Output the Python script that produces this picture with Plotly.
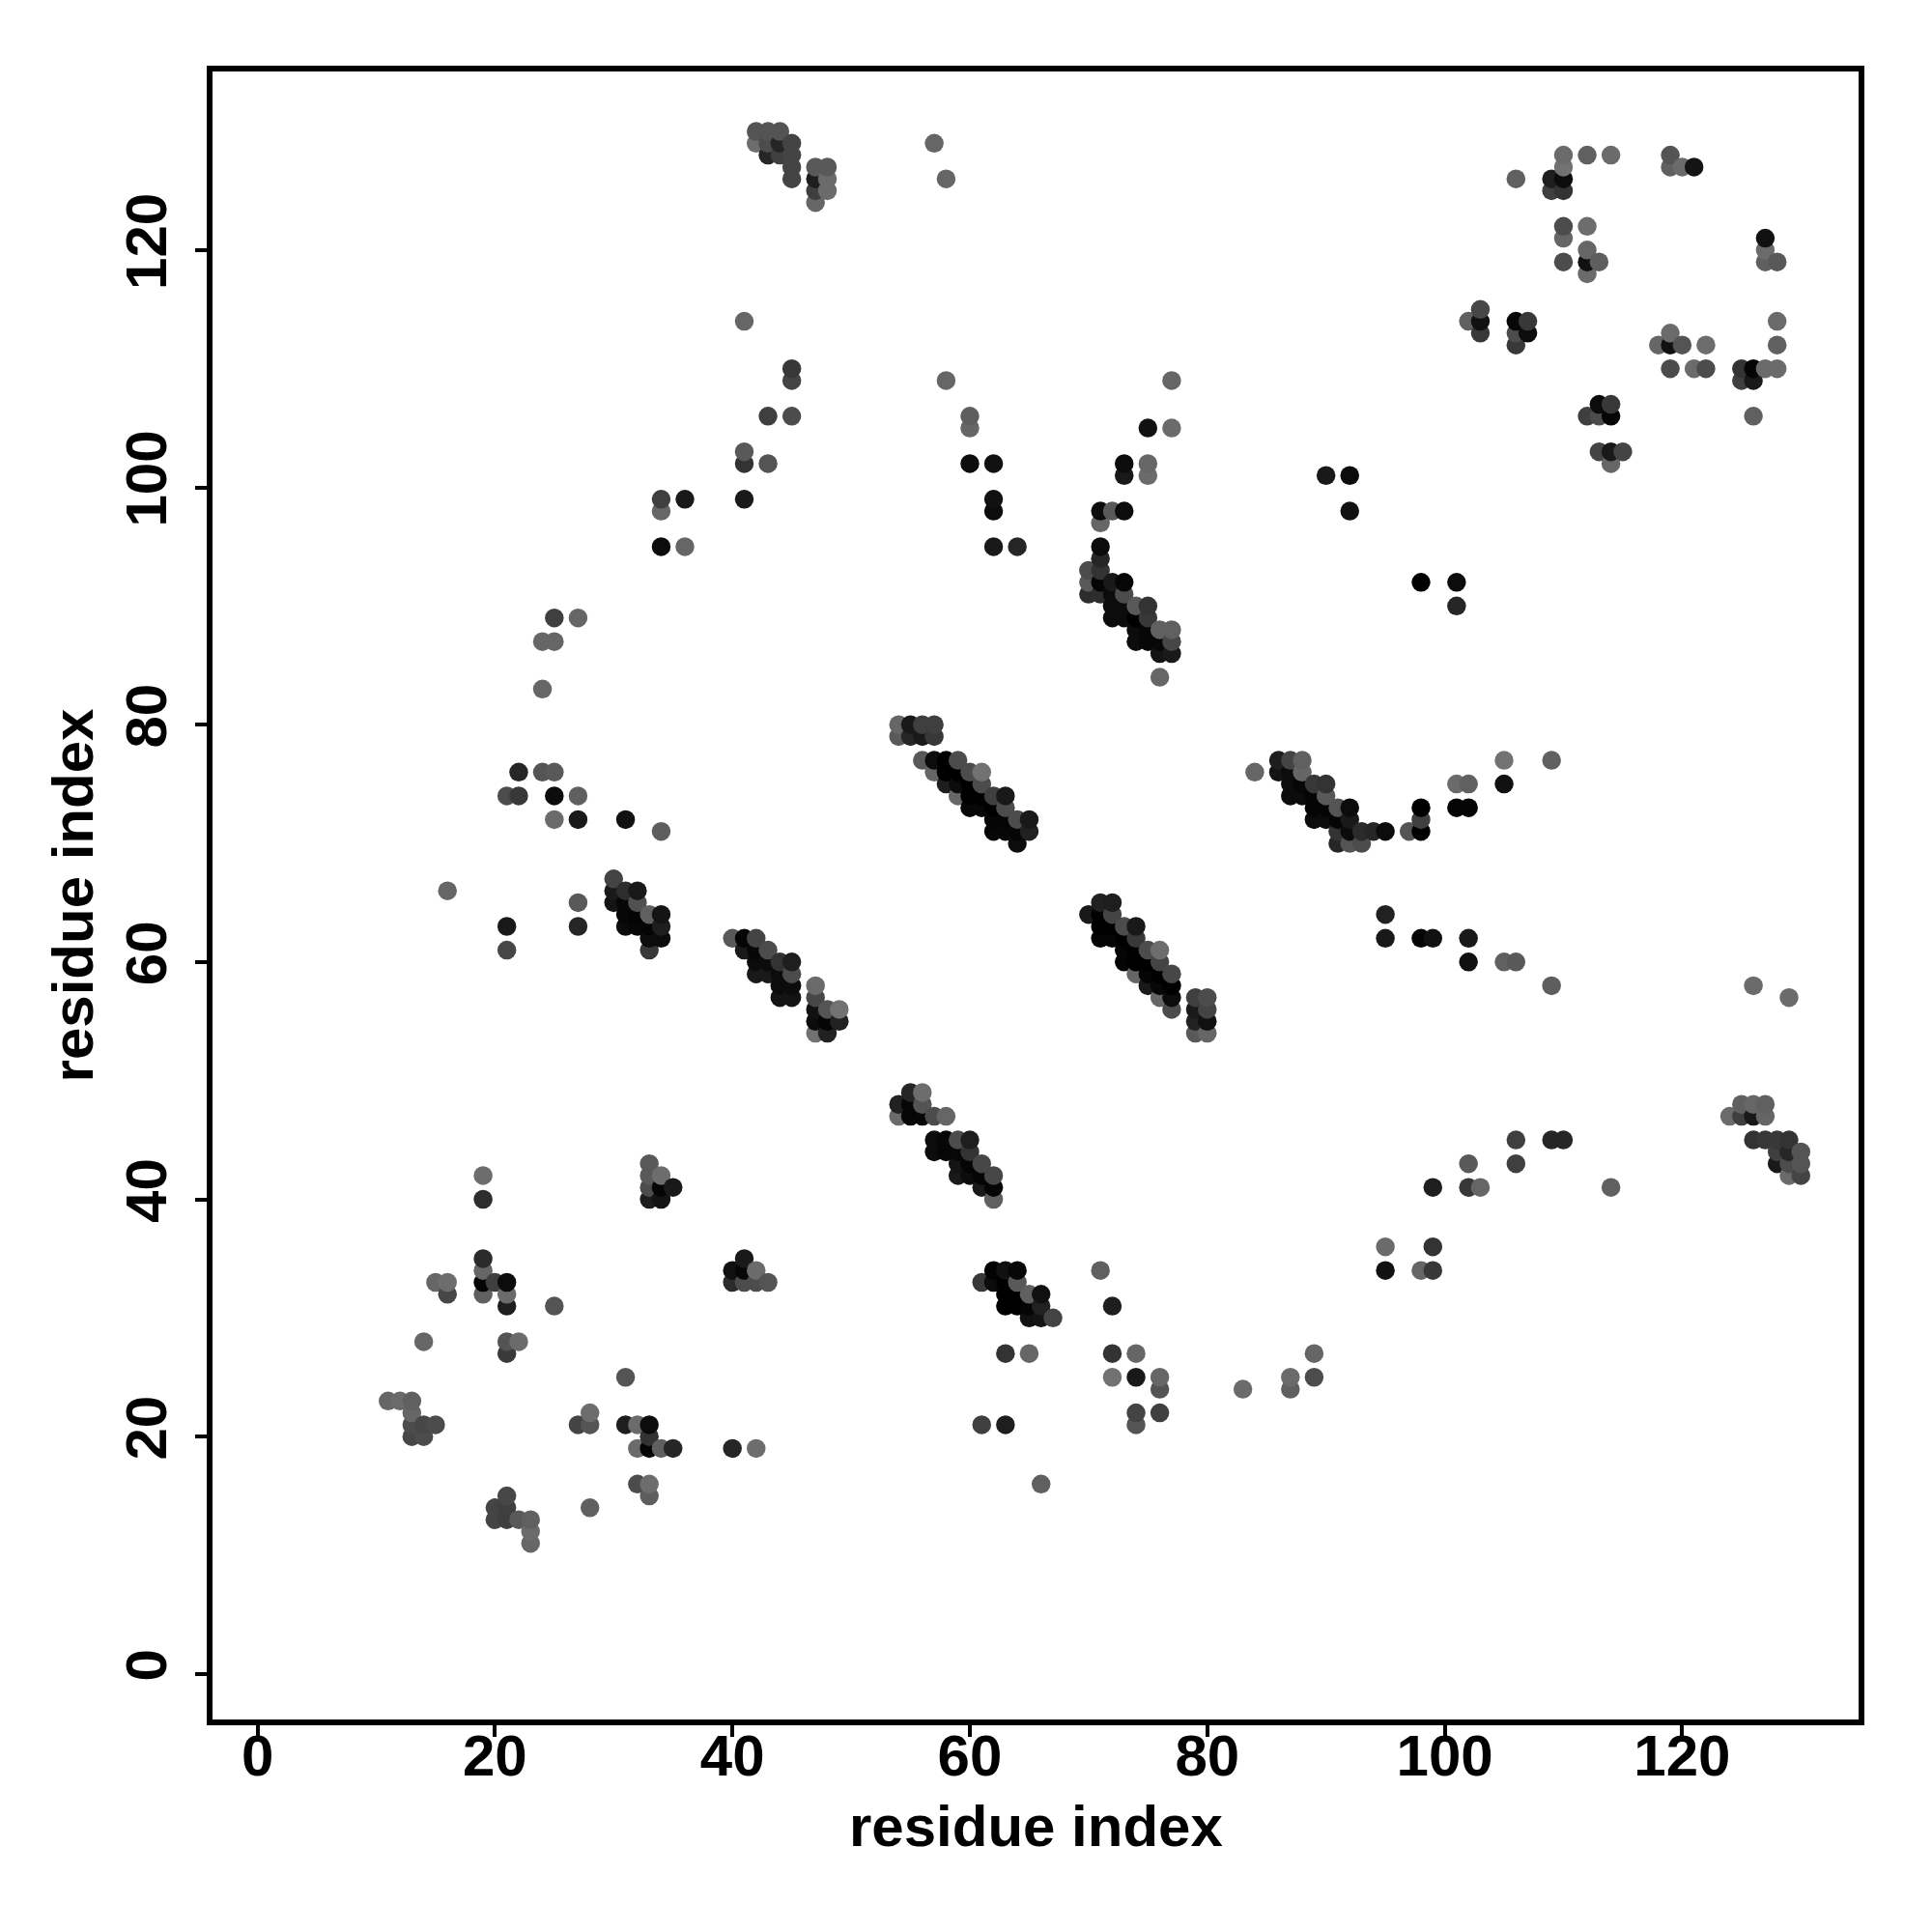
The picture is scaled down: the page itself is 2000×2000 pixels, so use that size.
import numpy as np
import plotly.graph_objects as go

# (residue i, residue j, grey shade 0=black .. 1=white)  grouped by row j
rows = {
130:[(42,.33),(43,.33),(44,.33)],
129:[(42,.43),(43,.3),(44,.15),(45,.27),(57,.4)],
128:[(43,.15),(44,.25),(45,.27),(110,.42),(112,.38),(114,.42),(119,.33)],
127:[(45,.27),(47,.35),(48,.35),(110,.45),(119,.38),(120,.42),(121,.08)],
126:[(45,.27),(47,.12),(48,.42),(58,.4),(106,.38),(109,.12),(110,.05)],
125:[(47,.25),(48,.42),(109,.25),(110,.2)],
124:[(47,.4)],
122:[(110,.3),(112,.43)],
121:[(110,.4),(127,.07)],
120:[(112,.4),(127,.42)],
119:[(110,.3),(112,.07),(113,.37),(127,.38),(128,.35)],
118:[(112,.42)],
115:[(103,.28)],
114:[(41,.4),(102,.38),(103,.07),(106,.03),(107,.22),(128,.42)],
113:[(103,.22),(106,.3),(107,.05),(119,.42)],
112:[(106,.22),(118,.4),(119,.07),(120,.33),(122,.43),(128,.38)],
110:[(45,.22),(119,.3),(121,.42),(122,.3),(125,.2),(126,.02),(127,.42),(128,.42)],
109:[(45,.27),(58,.4),(77,.4),(125,.25),(126,.1)],
107:[(113,.05),(114,.22)],
106:[(43,.25),(45,.3),(60,.37),(112,.25),(113,.3),(114,.02),(126,.38)],
105:[(60,.4),(75,.07),(77,.42)],
103:[(41,.35),(113,.27),(114,.1),(115,.27)],
102:[(41,.2),(43,.33),(60,.05),(62,.07),(73,.05),(75,.4),(114,.4)],
101:[(73,.1),(75,.42),(90,.1),(92,.05)],
99:[(34,.25),(36,.1),(41,.1),(62,.07)],
98:[(34,.4),(62,.05),(71,.05),(72,.35),(73,.05),(92,.07)],
97:[(71,.4)],
95:[(34,.05),(36,.4),(62,.1),(64,.15),(71,.05)],
94:[(71,.15)],
93:[(70,.3),(71,.2)],
92:[(70,.35),(71,.02),(72,.1),(73,.03),(98,0),(101,.05)],
91:[(70,.18),(71,.18),(72,.05),(73,.3)],
90:[(72,.05),(73,.05),(74,.35),(75,.2),(101,.15)],
89:[(25,.25),(27,.4),(72,.05),(73,.05),(74,0),(75,.22)],
88:[(74,.05),(75,.03),(76,.38),(77,.38)],
87:[(24,.4),(25,.4),(74,.05),(75,.03),(76,.03),(77,.28)],
86:[(76,.08),(77,.1)],
84:[(76,.4)],
83:[(24,.4)],
80:[(54,.4),(55,.1),(56,.25),(57,.25)],
79:[(54,.35),(55,.15),(56,.1),(57,.22)],
77:[(56,.35),(57,.05),(58,0),(59,.3),(86,.12),(87,.27),(88,.38),(105,.45),(109,.38)],
76:[(22,.15),(24,.33),(25,.35),(57,.4),(58,0),(59,0),(60,.3),(61,.45),(84,.4),(86,.08),(87,.05),(88,.4)],
75:[(58,.12),(59,.05),(60,0),(61,.3),(87,.05),(88,.03),(89,.22),(90,.2),(101,.42),(102,.38),(105,.07)],
74:[(21,.3),(22,.22),(25,.05),(27,.38),(59,.4),(60,0),(61,0),(62,.25),(63,.1),(87,.05),(88,.05),(89,.02),(90,.35)],
73:[(60,.03),(61,.03),(62,0),(63,.3),(89,.02),(90,.02),(91,.33),(92,.05),(98,0),(101,.02),(102,.02)],
72:[(25,.42),(27,.1),(31,.07),(62,.02),(63,.02),(64,.3),(65,.1),(89,.05),(90,.05),(91,.02),(92,.1),(98,.25)],
71:[(34,.37),(62,.03),(63,.03),(64,.02),(65,.13),(91,.2),(92,.05),(93,.17),(94,.15),(95,.05),(97,.33),(98,0)],
70:[(64,.05),(91,.15),(92,.33),(93,.3)],
67:[(30,.27)],
66:[(16,.4),(30,.1),(31,.18),(32,.1)],
65:[(27,.35),(30,.08),(31,.03),(32,.32),(71,.13),(72,.12)],
64:[(31,.03),(32,.02),(33,.38),(34,.08),(70,.1),(71,0),(72,.27),(95,.13)],
63:[(21,.1),(27,.15),(31,.05),(32,.03),(33,.02),(34,.12),(71,0),(72,0),(73,.3),(74,.1)],
62:[(33,.05),(34,.05),(40,.35),(41,.02),(42,.27),(71,.02),(72,.02),(73,0),(74,.22),(95,.1),(98,.02),(99,.07),(102,.1)],
61:[(21,.28),(33,.22),(41,.1),(42,.03),(43,.3),(73,.02),(74,0),(75,.3),(76,.43)],
60:[(42,.05),(43,.05),(44,.2),(45,.12),(73,.02),(74,0),(75,0),(76,.27),(102,.06),(105,.38),(106,.35)],
59:[(42,.1),(43,.1),(44,.05),(45,.3),(74,.4),(75,.02),(76,0),(77,.28)],
58:[(44,.05),(45,.05),(47,.42),(75,.1),(76,.03),(77,0),(109,.37),(126,.42)],
57:[(44,.08),(45,.08),(47,.28),(76,.4),(77,.05),(79,.25),(80,.3),(129,.42)],
56:[(47,.07),(48,.33),(49,.45),(77,.3),(79,.1),(80,.27)],
55:[(47,.05),(48,.02),(49,.13),(79,.13),(80,.07)],
54:[(47,.45),(48,.13),(79,.35),(80,.4)],
49:[(55,.15),(56,.43)],
48:[(54,.13),(55,.03),(56,.33),(125,.38),(126,.4),(127,.38)],
47:[(54,.42),(55,.03),(56,.03),(57,.3),(58,.4),(124,.42),(125,.25),(126,.1),(127,.4)],
45:[(57,.05),(58,.03),(59,.3),(60,.12),(106,.25),(109,.15),(110,.15),(126,.2),(127,.22),(128,.22),(129,.2)],
44:[(57,.05),(58,.03),(59,.03),(60,.2),(128,.25),(129,.15),(130,.33)],
43:[(33,.35),(59,.08),(60,.02),(61,.28),(102,.35),(106,.25),(128,.1),(129,.3),(130,.33)],
42:[(19,.43),(33,.35),(34,.43),(59,.1),(60,.05),(61,.02),(62,.28),(129,.42),(130,.27)],
41:[(33,.3),(34,.02),(35,.1),(61,.1),(62,.02),(99,.12),(102,.22),(103,.4),(114,.38)],
40:[(19,.18),(33,.12),(34,.08),(62,.38)],
36:[(95,.42),(99,.2)],
35:[(19,.17),(41,.1)],
34:[(19,.4),(40,.07),(41,.03),(42,.42),(62,.01),(63,.07),(64,.03),(71,.38),(95,.07),(98,.4),(99,.22)],
33:[(15,.4),(16,.43),(19,.02),(20,.25),(21,.05),(40,.17),(41,.3),(42,.3),(43,.33),(61,.22),(62,.05),(63,0),(64,.35)],
32:[(16,.28),(19,.38),(21,.42),(63,0),(64,0),(65,.38),(66,.07)],
31:[(21,.12),(25,.33),(63,0),(64,0),(65,.02),(66,.13),(72,.12)],
30:[(65,.07),(66,.08),(67,.27)],
28:[(14,.4),(21,.33),(22,.42)],
27:[(21,.23),(63,.2),(65,.4),(72,.2),(74,.4),(89,.4)],
25:[(31,.33),(72,.45),(74,.1),(76,.4),(87,.42),(89,.3)],
24:[(76,.33),(83,.42),(87,.38)],
23:[(11,.4),(12,.42),(13,.38)],
22:[(13,.4),(28,.43),(74,.27),(76,.25)],
21:[(13,.3),(14,.28),(15,.3),(27,.27),(28,.33),(31,.12),(32,.42),(33,.05),(61,.25),(63,.12),(74,.33)],
20:[(13,.28),(14,.3),(33,.2)],
19:[(32,.42),(33,.02),(34,.38),(35,.15),(40,.15),(42,.43)],
16:[(32,.3),(33,.43),(66,.38)],
15:[(21,.28),(33,.37)],
14:[(20,.27),(21,.25),(28,.38)],
13:[(20,.27),(21,.25),(22,.35),(23,.38)],
12:[(23,.42)],
11:[(23,.4)],
}
tick_values = [0, 20, 40, 60, 80, 100, 120]
axis_label = "residue index"

residue_i = np.array([p[0] for j, ps in rows.items() for p in ps])
residue_j = np.array([j for j, ps in rows.items() for p in ps])
shade = np.array([p[1] for j, ps in rows.items() for p in ps])
order = np.lexsort((residue_j, residue_i))
residue_i, residue_j, shade = residue_i[order], residue_j[order], shade[order]
colors = [f"rgb({int(s*255)},{int(s*255)},{int(s*255)})" for s in shade]

fig = go.Figure(go.Scatter(x=residue_i, y=residue_j, mode="markers",
    marker=dict(size=19.5, color=colors, line=dict(width=0))))

font = dict(family="Liberation Sans", size=60, color="black", weight="bold")
axis = dict(tickmode="array", tickvals=tick_values, ticks="outside",
    ticklen=12, tickwidth=4, tickcolor="black", showline=True, linewidth=6, linecolor="black",
    mirror=True, showgrid=False, zeroline=False, tickfont=font)
fig.update_layout(width=1984, height=1984, paper_bgcolor="white", plot_bgcolor="white",
    showlegend=False, margin=dict(l=212, r=68, t=66, b=212))
fig.update_xaxes(**axis, range=[-3.79, 134.86], ticklabelstandoff=-32, automargin=False)
fig.update_yaxes(**axis, range=[-3.84, 135.05], tickangle=-90, ticklabelstandoff=6,
    title=dict(text=axis_label, font=font, standoff=4), automargin=False)
fig.add_annotation(text=axis_label, font=font, xref="paper", yref="paper", x=0.5, y=-0.0647,
    xanchor="center", yanchor="middle", showarrow=False)
fig.write_html("out.html")
